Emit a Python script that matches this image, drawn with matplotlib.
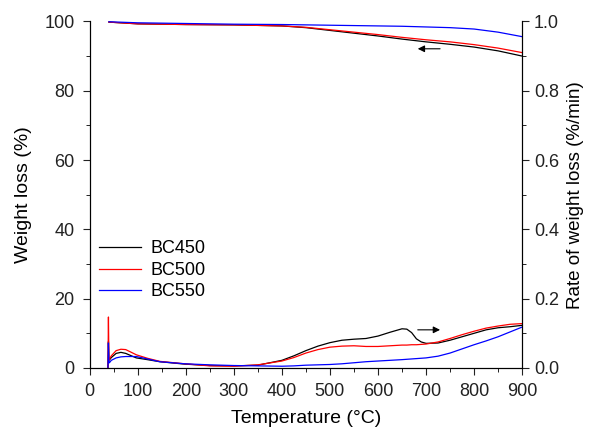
import matplotlib
matplotlib.use('Agg')
import matplotlib.pyplot as plt
from matplotlib.ticker import MultipleLocator

plt.rcParams['font.family'] = ['Liberation Sans', 'DejaVu Sans']

# weight loss curves (%)
temp_tg = [40, 100, 200, 300, 400, 450, 500, 550, 600, 650, 700, 750, 800, 850, 900]
tg_450 = [99.8, 99.3, 99.1, 99.0, 98.7, 98.2, 97.4, 96.6, 95.8, 94.9, 94.1, 93.4, 92.6, 91.5, 90.0]
tg_500 = [99.8, 99.3, 99.1, 99.0, 98.7, 98.3, 97.6, 96.9, 96.2, 95.4, 94.7, 94.1, 93.3, 92.3, 91.0]
tg_550 = [99.9, 99.6, 99.4, 99.2, 99.1, 99.0, 98.9, 98.8, 98.7, 98.6, 98.4, 98.2, 97.8, 96.9, 95.6]

# rate of weight loss (%/min)
temp_dtg = [38, 39, 40, 41, 45, 55, 65, 75, 97, 120, 146, 198, 250, 300, 350, 400, 425, 450,
            475, 500, 525, 550, 575, 600, 625, 650, 660, 670, 680, 690, 700, 725, 750, 775,
            800, 825, 850, 875, 900]
dtg_450 = [0.0, 0.076, 0.023, 0.023, 0.030, 0.042, 0.045, 0.042, 0.029, 0.024, 0.018, 0.011,
           0.007, 0.006, 0.008, 0.022, 0.035, 0.050, 0.063, 0.073, 0.080, 0.083, 0.085, 0.092,
           0.103, 0.113, 0.112, 0.102, 0.084, 0.075, 0.071, 0.072, 0.080, 0.090, 0.100, 0.110,
           0.116, 0.119, 0.123]
dtg_500 = [0.0, 0.147, 0.023, 0.025, 0.035, 0.050, 0.054, 0.053, 0.038, 0.028, 0.019, 0.012,
           0.006, 0.005, 0.009, 0.020, 0.030, 0.043, 0.053, 0.060, 0.063, 0.064, 0.062, 0.062,
           0.064, 0.066, 0.066, 0.067, 0.067, 0.068, 0.069, 0.075, 0.085, 0.096, 0.106, 0.115,
           0.121, 0.126, 0.128]
dtg_550 = [0.0, 0.072, 0.015, 0.015, 0.022, 0.029, 0.032, 0.033, 0.033, 0.026, 0.018, 0.012,
           0.009, 0.007, 0.006, 0.005, 0.006, 0.008, 0.009, 0.010, 0.012, 0.015, 0.018, 0.020,
           0.022, 0.024, 0.025, 0.026, 0.027, 0.028, 0.029, 0.034, 0.043, 0.055, 0.067, 0.078,
           0.090, 0.104, 0.118]

names = ['BC450', 'BC500', 'BC550']
colors = ['black', 'red', 'blue']

fig = plt.figure(figsize=(5.94, 4.37), dpi=100)
ax = fig.add_axes([0.151, 0.158, 0.728, 0.793])
ax2 = ax.twinx()

for tg, name, c in zip([tg_450, tg_500, tg_550], names, colors):
    ax.plot(temp_tg, tg, color=c, lw=0.9, label=name)
for dtg, c in zip([dtg_450, dtg_500, dtg_550], colors):
    ax2.plot(temp_dtg, dtg, color=c, lw=0.9)

ax.set_xlim(0, 900)
ax.set_ylim(0, 100)
ax2.set_ylim(0, 1.0)

ax.xaxis.set_major_locator(MultipleLocator(100))
ax.xaxis.set_minor_locator(MultipleLocator(50))
ax.yaxis.set_major_locator(MultipleLocator(20))
ax.yaxis.set_minor_locator(MultipleLocator(10))
ax2.yaxis.set_major_locator(MultipleLocator(0.2))
ax2.yaxis.set_minor_locator(MultipleLocator(0.1))
ax2.yaxis.set_major_formatter(plt.FormatStrFormatter('%.1f'))

for a in (ax, ax2):
    a.spines['top'].set_visible(False)
    a.tick_params(which='major', direction='out', length=5, labelsize=13, colors='#222222')
    a.tick_params(which='minor', direction='out', length=3)

ax.tick_params(axis='y', pad=6)
ax.tick_params(axis='x', pad=6)
ax.set_xlabel('Temperature (\u00b0C)', fontsize=14, labelpad=7)
ax.set_ylabel('Weight loss (%)', fontsize=14, labelpad=9)
ax2.set_ylabel('Rate of weight loss (%/min)', fontsize=13.5, labelpad=6)

ax.annotate('', xy=(677, 92.1), xytext=(735, 92.1),
            arrowprops=dict(arrowstyle='-|>', color='black', lw=0.8))
ax.annotate('', xy=(735, 11.0), xytext=(677, 11.0),
            arrowprops=dict(arrowstyle='-|>', color='black', lw=0.8))

ax.legend(loc='upper left', bbox_to_anchor=(-0.015, 0.415), frameon=False, fontsize=13,
          handlelength=2.3, handletextpad=0.5, labelspacing=0.25)

fig.savefig('out.png', dpi=100)
